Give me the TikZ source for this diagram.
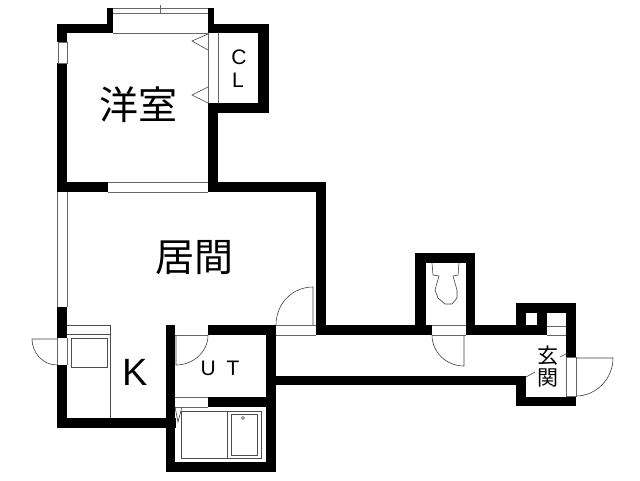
\documentclass[tikz,border=0pt]{standalone}
\usepackage{fontspec}
\setsansfont{Liberation Sans}
\newfontfamily\jpfont{Noto Sans CJK JP}
\tikzstyle{wall}=[fill=black,draw=none]
\tikzstyle{thin line}=[draw=black!60,line width=0.7pt]
\tikzstyle{door line}=[draw=black!75,line width=0.6pt]
\tikzstyle{fitting}=[draw=black!70,line width=0.9pt]
\tikzstyle{room}=[inner sep=0pt,font=\jpfont\fontsize{39}{39}\selectfont]
\tikzstyle{small room}=[inner sep=0pt,font=\jpfont\fontsize{21}{21}\selectfont]
\tikzstyle{latin}=[inner sep=0pt,font=\sffamily\fontsize{21}{21}\selectfont]
\begin{document}
\begin{tikzpicture}[x=1pt,y=-1pt]
			\useasboundingbox (0,0) rectangle (640,480);
			% First we draw the walls
			\foreach \xa/\ya/\xb/\yb in {57/24/113/33, 107/8/113/33, 208/8/214/33, 208/24/269/33, 258/24/269/113,
				208/103/269/113, 208/103/218/192, 57/24/67/42, 57/63/67/192, 57/182/108/192, 208/182/326/192,
				316/182/326/335, 57/307/67/338, 57/365/67/428, 57/418/176/428, 166/325/175/472, 166/462/276/472,
				208/325/276/335, 266/325/276/472, 208/397/276/407, 316/325/432/335, 415/253/475/263, 415/253/426/335,
				466/253/475/335, 466/325/537/335, 516/303/576/313, 516/303/526/335, 537/313/547/335, 566/303/576/357,
				516/397/576/406, 516/376/526/406, 276/376/526/385}
				\path[wall] (\xa,\ya) rectangle (\xb,\yb);
			% Windows and door openings
			\draw[thin line] (113,8) -- (208,8) (113,13) -- (208,13) (113,33) -- (208,33) (160,5) -- (160,14);
			\draw[thin line] (58,42) rectangle (67,63);
			\draw[thin line] (108,182) -- (208,182) (108,192) -- (208,192);
			\draw[thin line] (57,192) -- (57,307) (67,192) -- (67,307);
			\draw[thin line] (57,338) -- (57,365) (67,338) -- (67,365);
			\draw[thin line] (175,335) -- (208,335) (175,397) -- (208,397) (175,407) -- (208,407);
			\draw[thin line] (276,325) -- (316,325) (276,335) -- (316,335);
			\draw[thin line] (432,325) -- (466,325) (432,335) -- (466,335);
			\draw[thin line] (547,326) -- (566,326) (547,335) -- (566,335);
			\draw[thin line] (566,357) -- (576,357) -- (576,396) -- (566,396) -- cycle;
			% Closet
			\draw[thin line] (208,33) -- (208,103) (218,33) -- (218,103);
			\foreach \ytop/\ytip/\ybot in {34/41/50, 87/95/103}
				\draw[door line] (208,\ytop) -- (192,\ytip) -- (208,\ybot);
			% Doors
			\draw[door line] (57,339) -- (32,339) .. controls (32,353) and (43,365) .. (57,365);
			\draw[door line] (176,335) -- (176,365) .. controls (193,365) and (208,352) .. (208,335);
			\draw[door line] (313,325) -- (313,287) .. controls (292,287) and (276,304) .. (276,325);
			\draw[door line] (464,335) -- (464,366) .. controls (446,366) and (432,352) .. (432,335);
			\draw[door line] (576,358) -- (613,358) .. controls (613,379) and (596,396) .. (576,396);
			\draw[door line] (175,407) -- (178,422) -- (182,407);
			\draw[door line] (560,357) -- (566,354) (526,377) -- (535,372);
			% Kitchen counter and sink
			\draw[fitting] (110,418) -- (110,325) -- (67,325) (67,334) -- (110,334);
			\draw[fitting] (71,338) rectangle (107,367);
			% Bath
			\draw[fitting] (181,411) rectangle (261,458);
			\draw[fitting] (227,411) -- (227,458);
			\draw[fitting] (231,414) rectangle (257,455);
			\draw[door line] (243,418) circle (1.5);
			% Toilet
			\draw[door line] (432,263) -- (433,275) -- (439,276) -- (435,290) -- (438,298) -- (445,304) -- (452,304)
				-- (457,298) -- (457,290) -- (453,276) -- (458,275) -- (459,263);
			% Labels
			\node[room] (western) at (138,105) {洋室};
			\node[room] (living) at (194,258) {居間};
			\node[small room] (entrance a) at (548,356) {玄};
			\node[small room] (entrance b) at (548,378) {関};
			\node[latin] (closet c) at (239,57) {C};
			\node[latin] (closet l) at (238,80) {L};
			\node[inner sep=0pt,font=\sffamily\fontsize{38}{38}\selectfont] (kitchen) at (135,372) {K};
			\node[latin] (utility) at (220,368) {U\hspace{5pt} T};
\end{tikzpicture}
\end{document}
